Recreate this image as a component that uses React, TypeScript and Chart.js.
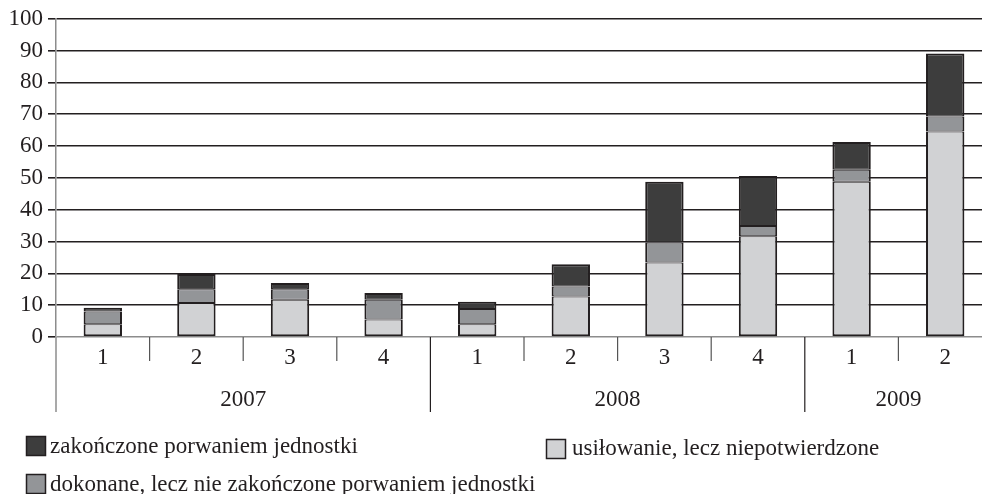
import React, { useEffect, useRef } from "react";
import { Chart, registerables } from "chart.js";

Chart.register(...registerables);

const quarters = ["1", "2", "3", "4", "1", "2", "3", "4", "1", "2"];
const years = ["2007", "2008", "2009"];
const yearGroups = [4, 4, 2];
const yTicks = [0, 10, 20, 30, 40, 50, 60, 70, 80, 90, 100];

const usilowanie = [4, 10.7, 11.7, 5.5, 4, 12.7, 23.4, 31.7, 48.8, 64.6];
const dokonane = [4, 4.3, 3.3, 6.2, 4.8, 3.2, 6.3, 3.2, 3.8, 4.7];
const zakonczone = [1.2, 4.8, 2.0, 2.1, 2.3, 7.0, 19.1, 15.7, 8.7, 19.8];

const seriesNames = [
  "zakończone porwaniem jednostki",
  "usiłowanie, lecz niepotwierdzone",
  "dokonane, lecz nie zakończone porwaniem jednostki",
];

const DARK = "#3d3d3d";
const MID = "#939598";
const LIGHT = "#d1d2d4";
const INK = "#231f20";
const AXIS_GRAY = "#8c8c8c";
const FONT = "'Liberation Serif', 'Times New Roman', serif";
const FSIZE = 23;

const groupPlugin = {
  id: "groupPlugin",
  afterDraw(chart: any) {
    const ctx = chart.ctx;
    const x = chart.scales.x;
    const area = chart.chartArea;
    const bottom = area.bottom;
    const n = quarters.length;
    const boundary = (i: number) => {
      if (i <= 0) return area.left;
      if (i >= n) return area.right;
      return (x.getPixelForValue(i - 1) + x.getPixelForValue(i)) / 2;
    };
    ctx.save();
    ctx.strokeStyle = AXIS_GRAY;
    ctx.lineWidth = 1.5;
    ctx.beginPath();
    ctx.moveTo(area.left, bottom);
    ctx.lineTo(area.left, 412);
    ctx.stroke();

    const yearStarts = new Set<number>();
    let acc = 0;
    for (const g of yearGroups) {
      yearStarts.add(acc);
      acc += g;
    }
    for (let i = 1; i < n; i++) {
      const bx = boundary(i);
      const long = yearStarts.has(i);
      ctx.strokeStyle = long ? INK : "#555";
      ctx.lineWidth = 1.2;
      ctx.beginPath();
      ctx.moveTo(bx, bottom);
      ctx.lineTo(bx, long ? 412 : 361);
      ctx.stroke();
    }
    ctx.fillStyle = INK;
    ctx.font = `${FSIZE}px ${FONT}`;
    ctx.textAlign = "center";
    ctx.textBaseline = "alphabetic";
    let start = 0;
    years.forEach((yr, k) => {
      const end = start + yearGroups[k];
      const cx = (boundary(start) + boundary(end)) / 2;
      ctx.fillText(yr, cx, 406);
      start = end;
    });

    const items = [
      { label: seriesNames[0], color: DARK, sx: 26.5, sy: 436.5, tx: 50, ty: 453 },
      { label: seriesNames[1], color: LIGHT, sx: 546.5, sy: 439.5, tx: 572, ty: 455 },
      { label: seriesNames[2], color: MID, sx: 26.5, sy: 474.5, tx: 50, ty: 491 },
    ];
    ctx.textAlign = "left";
    items.forEach((it) => {
      ctx.fillStyle = it.color;
      ctx.fillRect(it.sx, it.sy, 19, 19);
      ctx.strokeStyle = INK;
      ctx.lineWidth = 1.5;
      ctx.strokeRect(it.sx, it.sy, 19, 19);
      ctx.fillStyle = INK;
      ctx.fillText(it.label, it.tx, it.ty);
    });
    ctx.restore();
  },
};

export default function App() {
  const ref = useRef<HTMLCanvasElement | null>(null);

  useEffect(() => {
    if (!ref.current) return;
    const common = {
      borderColor: INK,
      borderSkipped: false as const,
      barPercentage: 0.41,
      categoryPercentage: 1,
    };
    const chart = new Chart(ref.current, {
      type: "bar",
      data: {
        labels: quarters,
        datasets: [
          {
            label: seriesNames[1],
            data: usilowanie,
            backgroundColor: LIGHT,
            borderWidth: { top: 1, bottom: 2, left: 2, right: 2 },
            ...common,
          },
          {
            label: seriesNames[2],
            data: dokonane,
            backgroundColor: MID,
            borderWidth: { top: 1, bottom: 1, left: 2, right: 2 },
            ...common,
          },
          {
            label: seriesNames[0],
            data: zakonczone,
            backgroundColor: DARK,
            borderWidth: { top: 2, bottom: 1, left: 2, right: 2 },
            ...common,
          },
        ],
      },
      options: {
        animation: false,
        responsive: false,
        devicePixelRatio: 1,
        layout: { padding: { top: 16, left: 0, right: 0, bottom: 0 } },
        plugins: {
          legend: { display: false },
          tooltip: { enabled: false },
        },
        scales: {
          x: {
            stacked: true,
            grid: { display: false, drawTicks: false, tickLength: 0 },
            border: { display: false },
            ticks: {
              color: INK,
              font: { family: FONT, size: FSIZE },
              padding: 7,
              maxRotation: 0,
              autoSkip: false,
            },
            afterFit: (s: any) => {
              s.height = 157;
            },
          },
          y: {
            stacked: true,
            min: 0,
            max: 100,
            afterBuildTicks: (s: any) => {
              s.ticks = yTicks.map((v) => ({ value: v }));
            },
            grid: {
              color: (c: any) => (c.tick && c.tick.value === 0 ? AXIS_GRAY : INK),
              lineWidth: 1.6,
              tickLength: 8,
              tickColor: INK,
            },
            border: { display: true, color: AXIS_GRAY, width: 1.5 },
            ticks: {
              color: INK,
              font: { family: FONT, size: FSIZE },
              padding: 5,
            },
            afterFit: (s: any) => {
              s.width = 56;
            },
          },
        },
      },
      plugins: [groupPlugin],
    });
    return () => chart.destroy();
  }, []);

  return (
    <div
      style={{
        position: "fixed",
        left: 0,
        top: 0,
        width: 982,
        height: 494,
        overflow: "hidden",
        background: "#fff",
      }}
    >
      <canvas ref={ref} width={992} height={494} style={{ display: "block" }} />
    </div>
  );
}
